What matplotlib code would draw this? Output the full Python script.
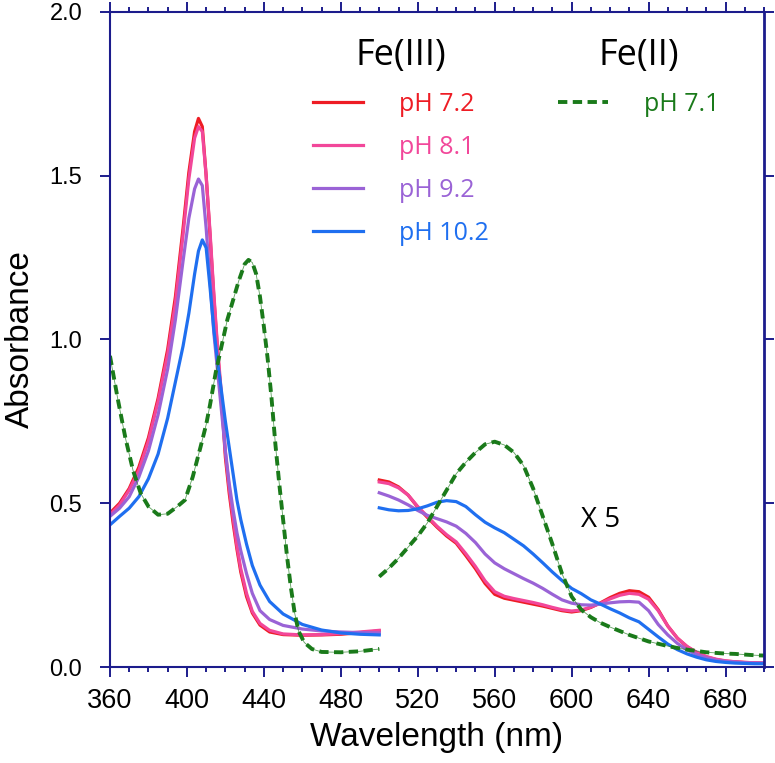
import matplotlib.pyplot as plt
import numpy as np
from matplotlib.ticker import MultipleLocator

plt.rcParams['font.family'] = ['Liberation Sans', 'DejaVu Sans']

# Soret region (360-500 nm)
wl_soret = [360, 365, 370, 375, 380, 385, 390, 394, 398, 401, 404, 406, 408, 410, 412,
            414, 416, 418, 420, 422, 424, 426, 428, 431, 434, 438, 443, 450, 460, 470,
            480, 490, 500]
ph72_soret = [0.47, 0.50, 0.545, 0.61, 0.70, 0.82, 0.97, 1.13, 1.34, 1.51, 1.635, 1.675, 1.65,
              1.50, 1.32, 1.13, 0.96, 0.815, 0.64, 0.53, 0.44, 0.36, 0.29, 0.215, 0.165, 0.128,
              0.107, 0.099, 0.097, 0.098, 0.10, 0.105, 0.11]
ph81_soret = [0.465, 0.495, 0.54, 0.60, 0.69, 0.81, 0.955, 1.11, 1.32, 1.49, 1.615, 1.65, 1.635,
              1.50, 1.33, 1.14, 0.97, 0.83, 0.655, 0.545, 0.455, 0.37, 0.30, 0.225, 0.17, 0.133,
              0.112, 0.101, 0.098, 0.099, 0.102, 0.107, 0.112]
ph92_soret = [0.46, 0.485, 0.52, 0.58, 0.66, 0.77, 0.91, 1.06, 1.24, 1.37, 1.46, 1.49, 1.47,
              1.34, 1.18, 1.02, 0.90, 0.78, 0.66, 0.56, 0.48, 0.41, 0.355, 0.285, 0.225, 0.172,
              0.145, 0.127, 0.116, 0.11, 0.107, 0.105, 0.104]
ph102_soret = [0.434, 0.46, 0.485, 0.52, 0.575, 0.65, 0.76, 0.87, 0.98, 1.08, 1.20, 1.27, 1.304,
               1.28, 1.16, 1.03, 0.93, 0.84, 0.75, 0.67, 0.59, 0.51, 0.45, 0.375, 0.31, 0.25,
               0.20, 0.162, 0.13, 0.113, 0.104, 0.10, 0.098]

wl_fe2_soret = [360, 364, 368, 372, 376, 380, 385, 390, 395, 399, 403, 407, 410, 412, 415, 418,
                421, 424, 427, 430, 432, 434, 436, 438, 440, 442, 444, 446, 448, 450, 452, 454,
                456, 458, 461, 465, 470, 480, 490, 500]
fe2_soret = [0.95, 0.82, 0.70, 0.60, 0.53, 0.49, 0.465, 0.468, 0.49, 0.51, 0.58, 0.67, 0.74,
             0.80, 0.90, 0.98, 1.06, 1.12, 1.18, 1.23, 1.243, 1.235, 1.20, 1.13, 1.04, 0.94,
             0.82, 0.68, 0.56, 0.45, 0.34, 0.245, 0.165, 0.11, 0.075, 0.055, 0.046, 0.045,
             0.048, 0.055]

# Q-band region (500-700 nm), shown x 5
wl_q = list(range(500, 701, 5))
ph72_q = [0.571, 0.565, 0.55, 0.525, 0.488, 0.457, 0.427, 0.40, 0.378, 0.34, 0.30, 0.255, 0.222,
          0.21, 0.204, 0.198, 0.192, 0.186, 0.179, 0.172, 0.168, 0.172, 0.182, 0.196, 0.212,
          0.225, 0.233, 0.23, 0.213, 0.175, 0.125, 0.088, 0.062, 0.044, 0.031, 0.023, 0.018,
          0.016, 0.014, 0.013, 0.012]
ph81_q = [0.565, 0.56, 0.547, 0.525, 0.49, 0.46, 0.43, 0.404, 0.382, 0.346, 0.307, 0.263, 0.23,
          0.216, 0.209, 0.203, 0.197, 0.19, 0.182, 0.175, 0.171, 0.174, 0.183, 0.195, 0.208,
          0.219, 0.225, 0.222, 0.207, 0.172, 0.125, 0.088, 0.063, 0.045, 0.032, 0.024, 0.019,
          0.016, 0.014, 0.013, 0.012]
ph92_q = [0.532, 0.522, 0.51, 0.495, 0.478, 0.463, 0.453, 0.443, 0.43, 0.408, 0.38, 0.345, 0.318,
          0.30, 0.285, 0.27, 0.256, 0.24, 0.222, 0.205, 0.195, 0.19, 0.189, 0.192, 0.196, 0.199,
          0.2, 0.198, 0.172, 0.13, 0.098, 0.072, 0.052, 0.038, 0.028, 0.021, 0.017, 0.015,
          0.013, 0.012, 0.012]
ph102_q = [0.486, 0.48, 0.477, 0.478, 0.483, 0.492, 0.503, 0.508, 0.505, 0.49, 0.465, 0.442,
           0.425, 0.41, 0.39, 0.37, 0.345, 0.318, 0.29, 0.264, 0.24, 0.224, 0.205, 0.192, 0.178,
           0.165, 0.15, 0.138, 0.115, 0.092, 0.07, 0.053, 0.04, 0.03, 0.022, 0.017, 0.014,
           0.012, 0.011, 0.01, 0.01]
fe2_q = [0.276, 0.302, 0.332, 0.366, 0.40, 0.44, 0.49, 0.54, 0.59, 0.625, 0.655, 0.68, 0.688,
         0.678, 0.655, 0.615, 0.545, 0.46, 0.375, 0.285, 0.215, 0.175, 0.152, 0.135, 0.122,
         0.11, 0.098, 0.088, 0.078, 0.071, 0.064, 0.058, 0.053, 0.049, 0.045, 0.043, 0.041,
         0.04, 0.038, 0.036, 0.035]

labels_fe3 = ['pH 7.2', 'pH 8.1', 'pH 9.2', 'pH 10.2']
colors_fe3 = ['#ee1c24', '#f2479a', '#9a63d6', '#1f6ff0']
green = '#1a7a1a'
navy = '#1c1c8c'

fig = plt.figure(figsize=(7.75, 7.63), dpi=100)
ax = fig.add_axes([0.1419, 0.1258, 0.8439, 0.8585])

soret = [ph72_soret, ph81_soret, ph92_soret, ph102_soret]
qband = [ph72_q, ph81_q, ph92_q, ph102_q]
fe3_handles = []
for s, q, c, lab in zip(soret, qband, colors_fe3, labels_fe3):
    h, = ax.plot(wl_soret, s, color=c, lw=2.3, label=lab)
    ax.plot(wl_q, q, color=c, lw=2.3)
    fe3_handles.append(h)

# Fe(II): thin line under thick dashes
for x, y in [(wl_fe2_soret, fe2_soret), (wl_q, fe2_q)]:
    ax.plot(x, y, color=green, lw=0.6, alpha=0.7)
    fe2_h, = ax.plot(x, y, color=green, lw=2.8, dashes=(2.4, 1.4), label='pH 7.1')

ax.set_xlim(360, 700)
ax.set_ylim(0, 2.0)
ax.xaxis.set_minor_locator(MultipleLocator(10))
ax.yaxis.set_major_locator(MultipleLocator(0.5))
ax.set_xticks(np.arange(360, 681, 40))
ax.yaxis.set_major_formatter(plt.FormatStrFormatter('%.1f'))

ax.tick_params(axis='x', which='both', direction='out', top=True, colors=navy,
               labelcolor='black', labelsize=19.5, pad=8, width=1.4)
ax.tick_params(axis='x', which='major', length=7)
ax.tick_params(axis='x', which='minor', length=3.6)
ax.tick_params(axis='y', which='major', direction='out', right=True, colors=navy,
               labelcolor='black', labelsize=17, pad=13, length=7, width=1.4)
for sp in ax.spines.values():
    sp.set_color(navy)
    sp.set_linewidth(1.5)
ax.spines['right'].set_linewidth(2.0)

ax.set_xlabel('Wavelength (nm)', fontsize=24, labelpad=6)
ax.set_ylabel('Absorbance', fontsize=24, labelpad=10)

ax.text(615, 0.45, 'X 5', fontsize=20, ha='center', va='center', family='Open Sans')

leg_opts = dict(loc='upper left', frameon=False, labelcolor='linecolor',
                prop={'family': 'Open Sans', 'size': 18}, handlelength=2.0,
                handletextpad=1.45, labelspacing=0.72, borderpad=0, borderaxespad=0)
leg1 = ax.legend(handles=fe3_handles, title='Fe(III)', bbox_to_anchor=(0.31, 0.961), **leg_opts)
leg1.get_title().set_fontsize(26)
leg1.get_title().set_family('Open Sans')
ax.add_artist(leg1)
leg2 = ax.legend(handles=[fe2_h], title='Fe(II)', bbox_to_anchor=(0.685, 0.961), **leg_opts)
leg2.get_title().set_fontsize(26)
leg2.get_title().set_family('Open Sans')

fig.savefig('out.png', dpi=100)
